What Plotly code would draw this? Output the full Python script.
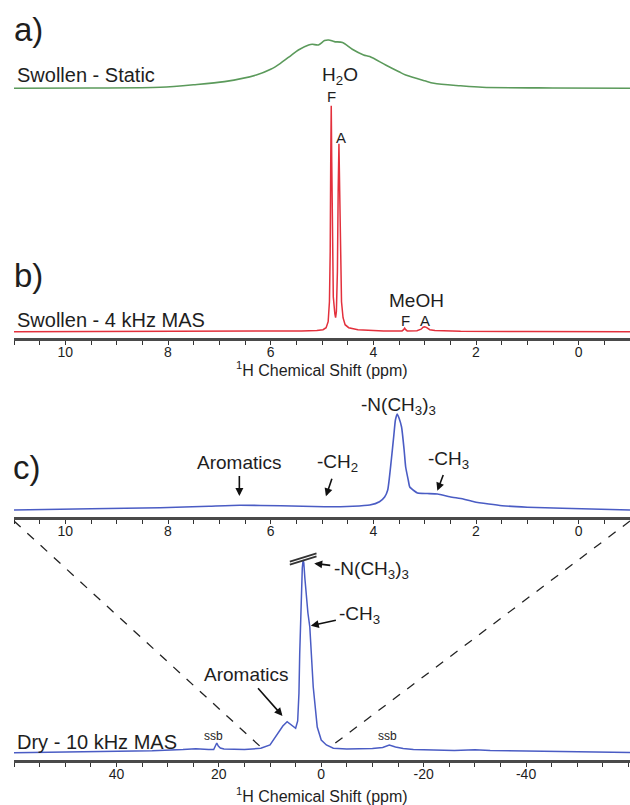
import plotly.graph_objects as go

# ---------------- data ----------------
# (a) Swollen - Static
static_ppm = [11.0, 9.5, 8.15, 7.5, 6.9, 6.28, 6.0, 5.81, 5.6, 5.46, 5.26, 5.19, 5.07, 4.95, 4.87,
              4.76, 4.60, 4.41, 4.19, 4.07, 3.76, 3.5, 3.37, 3.0, 2.82, 2.3, 1.88, 0.5, -1.0]
static_int = [0, 0.3, 1.0, 3.5, 6.7, 13.3, 19, 25, 33, 38.3, 43.3, 44, 43.3, 47.7, 48.3,
              46.7, 45.7, 39, 33.3, 31.7, 23.3, 16.5, 13.3, 7.5, 5, 2.5, 1, 0.3, 0]

# (b) Swollen - 4 kHz MAS
mas4_ppm = [11, 8, 6, 5.4, 5.1, 4.98, 4.92, 4.88, 4.855, 4.84, 4.83, 4.82, 4.81, 4.80, 4.78,
            4.75, 4.735, 4.72, 4.70, 4.685, 4.67, 4.655, 4.64, 4.62, 4.59, 4.55, 4.48, 4.3,
            3.8, 3.44, 3.41, 3.39, 3.37, 3.34, 3.15, 3.07, 3.03, 3.0, 2.96, 2.9, 2.8, 2.3, 1, -1]
mas4_int = [0, 0.2, 0.4, 0.8, 1.2, 2, 4, 10, 30, 80, 170, 226, 170, 90, 35,
            18, 14, 20, 60, 140, 188, 140, 70, 30, 14, 7, 4, 2,
            0.8, 0.8, 2, 3.5, 2, 0.8, 1, 2.5, 4.5, 5, 4, 2, 1.2, 0.5, 0.2, 0]

# (c) Dry - 10 kHz MAS, expanded region
dry_zoom_ppm = [11, 9.5, 8.15, 7.2, 6.6, 5.8, 4.95, 4.4, 4.07, 3.88, 3.78, 3.72, 3.65, 3.6, 3.57,
                3.535, 3.5, 3.45, 3.40, 3.37, 3.32, 3.29, 3.2, 3.14, 2.95, 2.75, 2.51, 2.25,
                2.04, 1.75, 1.49, 1.0, 0.32, -1]
dry_zoom_int = [0, 1.2, 2.3, 3.8, 4.7, 4.3, 3.3, 3.8, 5, 8.3, 13, 20, 50, 75, 90,
                96, 92, 83, 60, 43, 30, 23, 19, 17, 16.5, 16, 13.3, 11,
                8.3, 6, 4.3, 2.8, 1.7, 0]

# (c) Dry - 10 kHz MAS, full spectrum
dry_ppm = [60, 50, 40, 33, 27, 24.5, 22, 21, 20.4, 20.1, 19.7, 19, 15, 11.8, 10, 8.6, 7.5, 6.66,
           5.8, 5.0, 4.6, 4.35, 4.2, 4.06, 3.9, 3.7, 3.54, 3.4, 3.2, 2.9, 2.6, 2.23, 1.56,
           0.78, 0, -1, -2.36, -5, -8, -10, -12, -13.3, -14.5, -16, -18, -22, -26, -30, -33,
           -40, -50, -60.3]
dry_int = [0.3, 0.8, 1.5, 2.3, 3.5, 4.3, 3.5, 3.5, 10, 7, 5, 4, 3.5, 4.7, 8, 18, 27, 31.3,
           28, 24.7, 32, 60, 100, 123, 160, 185, 193, 190, 175, 155, 140, 126, 66,
           26, 13, 8, 4.7, 4, 4, 4.5, 5.5, 8, 6, 4.5, 3.5, 3, 2.5, 3.3, 2.5,
           2, 1.5, 0.5]

# axis ticks
narrow_range = [11, -1]
wide_range = [60, -60.3]
narrow_ticks = [10, 8, 6, 4, 2, 0]
wide_ticks = [40, 20, 0, -20, -40]

# ---------------- layout helpers ----------------
W, H = 630, 805
ML = 14
FONT = "Liberation Sans, Arial, sans-serif"
TXT = "#1e1e1e"


def ppx(p):
    return (p - ML) / (W - ML)


def ppy(p):
    return 1 - p / H


def dom(bottom, top):
    return [ppy(bottom), ppy(top)]


def yr(bottom, top, base):
    return [-(bottom - base), base - top]


GREEN = "#5b9a5b"
RED = "#e3303c"
BLUE = "#4a5cc4"

fig = go.Figure()
fig.add_trace(go.Scatter(x=static_ppm, y=static_int, mode="lines", xaxis="x", yaxis="y",
                         line=dict(color=GREEN, width=1.6, shape="spline", smoothing=0.8)))
fig.add_trace(go.Scatter(x=mas4_ppm, y=mas4_int, mode="lines", xaxis="x2", yaxis="y2",
                         line=dict(color=RED, width=1.5)))
fig.add_trace(go.Scatter(x=dry_zoom_ppm, y=dry_zoom_int, mode="lines", xaxis="x3", yaxis="y3",
                         line=dict(color=BLUE, width=1.6, shape="spline", smoothing=0.5)))
fig.add_trace(go.Scatter(x=dry_ppm, y=dry_int, mode="lines", xaxis="x4", yaxis="y4",
                         line=dict(color=BLUE, width=1.5)))


def xax(rng, ticks, minor, anchor, visible=True):
    return dict(range=rng, domain=[0, 1], anchor=anchor, visible=visible,
                showline=True, linecolor="#4a4a4a", linewidth=2.5,
                ticks="outside", ticklen=4, tickwidth=1, tickcolor="#333",
                tickvals=ticks, ticktext=[str(t) for t in ticks],
                ticklabelstandoff=-4,
                minor=dict(dtick=minor, ticks="outside", ticklen=4, tickwidth=1, tickcolor="#333"),
                tickfont=dict(family=FONT, size=14, color=TXT),
                showgrid=False, zeroline=False, fixedrange=True)


def yax(d, r):
    return dict(domain=d, range=r, visible=False, showgrid=False, zeroline=False, fixedrange=True)


layout = dict(
    width=W, height=H, margin=dict(l=ML, r=0, t=0, b=0),
    paper_bgcolor="white", plot_bgcolor="rgba(0,0,0,0)", showlegend=False,
    font=dict(family=FONT, color=TXT),
    xaxis=xax(narrow_range, narrow_ticks, 0.5, "y", visible=False),
    yaxis=yax(dom(95, 35), yr(95, 35, 88.3)),
    xaxis2=xax(narrow_range, narrow_ticks, 0.5, "y2"),
    yaxis2=yax(dom(338, 100), yr(338, 100, 331.7)),
    xaxis3=xax(narrow_range, narrow_ticks, 0.5, "y3"),
    yaxis3=yax(dom(517, 400), yr(517, 400, 510)),
    xaxis4=xax(wide_range, wide_ticks, 5, "y4"),
    yaxis4=yax(dom(760, 545), yr(760, 545, 753)),
)
fig.update_layout(**layout)

ann = []


def ptext(text, x, y, size, xanchor="center"):
    ann.append(dict(text=text, x=ppx(x), y=ppy(y), xref="paper", yref="paper",
                    xanchor=xanchor, yanchor="middle", showarrow=False,
                    font=dict(family=FONT, size=size, color=TXT)))


def arrow_text(text, ax_id, x, y, dx, dy, size):
    ann.append(dict(text=text, x=x, y=y, xref="x" + ax_id, yref="y" + ax_id,
                    ax=dx, ay=dy, axref="pixel", ayref="pixel",
                    showarrow=True, arrowhead=2, arrowsize=1, arrowwidth=1.6,
                    arrowcolor="#111", standoff=1, startstandoff=2,
                    font=dict(family=FONT, size=size, color=TXT)))


# panel letters
ptext("a)", 28, 29, 33)
ptext("b)", 28, 275, 33)
ptext("c)", 27, 467, 33)

# sample labels
ptext("Swollen - Static", 15, 75, 20, "left")
ptext("Swollen - 4 kHz MAS", 15, 320, 20, "left")
ptext("Dry - 10 kHz MAS", 15, 742, 20, "left")

# peak labels panel b
ptext("H<sub>2</sub>O", 340, 76, 19)
ptext("F", 331, 97, 15)
ptext("A", 341, 137, 15)
ptext("MeOH", 416, 300, 19)
ptext("F", 405, 320, 15)
ptext("A", 425, 320, 15)

# axis titles
ptext("<sup>1</sup>H Chemical Shift (ppm)", 322, 369, 16)
ptext("<sup>1</sup>H Chemical Shift (ppm)", 322, 795, 16)

# panel c (zoom) labels
ptext("-N(CH<sub>3</sub>)<sub>3</sub>", 398, 406, 19)
arrow_text("Aromatics", "3", 6.61, 13, 0, -35, 19)
arrow_text("-CH<sub>2</sub>", "3", 4.93, 12.7, 11.5, -34, 19)
arrow_text("-CH<sub>3</sub>", "3", 2.76, 18.3, 12, -32, 19)

# panel c (full) labels
arrow_text("-N(CH<sub>3</sub>)<sub>3</sub>", "4", 1.56, 189.7, 58, 7, 19)
arrow_text("-CH<sub>3</sub>", "4", 2.23, 127, 50, -11, 19)
arrow_text("Aromatics", "4", 7.44, 36.3, -37, -42, 19)
ptext("ssb", 213, 736, 12)
ptext("ssb", 387, 736, 12)

fig.update_layout(annotations=ann)

# break marker on the truncated peak
shapes = []
for off in (0, -3):
    shapes.append(dict(type="line", xref="x4", yref="y4", x0=6.13, y0=191.3 + off, x1=0.92, y1=199.7 + off,
                       line=dict(color="#333", width=1.8)))
# dashed expansion lines
shapes.append(dict(type="line", xref="x4", yref="paper", x0=wide_range[0], y0=ppy(521), x1=11.8, y1=ppy(747),
                   line=dict(color="#222", width=1.3, dash="dash")))
shapes.append(dict(type="line", xref="x4", yref="paper", x0=wide_range[1], y0=ppy(521), x1=-2.0, y1=ppy(746),
                   line=dict(color="#222", width=1.3, dash="dash")))
fig.update_layout(shapes=shapes)

fig.write_html("out.html", config={"displayModeBar": False, "staticPlot": True},
               post_script="document.body.style.margin='0';document.body.style.padding='0';"
                           "document.body.style.overflow='hidden';")
